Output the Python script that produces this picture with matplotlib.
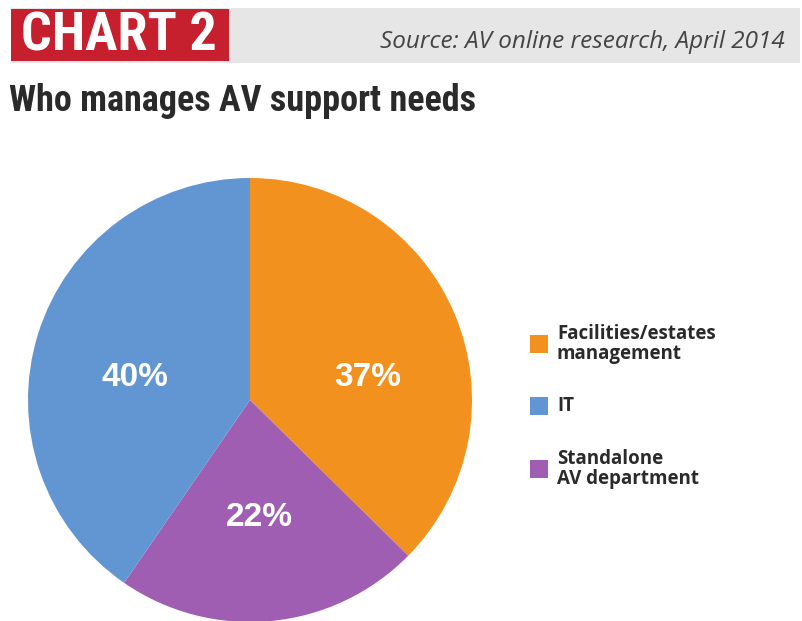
import matplotlib
matplotlib.use("Agg")
import matplotlib.pyplot as plt
from matplotlib.patches import Rectangle

# survey shares (per cent), pie order clockwise from 12 o'clock
slices = ["Facilities/estates\nmanagement", "Standalone\nAV department", "IT"]
shares = [37, 22, 40]
slice_colors = ["#F2911E", "#A05EB2", "#6296D2"]

# legend order
legend_order = ["Facilities/estates\nmanagement", "IT", "Standalone\nAV department"]

chart_tag = "CHART 2"
source = "Source: AV online research, April 2014"
title = "Who manages AV support needs"

W, H = 802, 621
cond = ["Roboto Condensed", "DejaVu Sans"]
wide = ["Open Sans", "DejaVu Sans"]


def fx(px):
    return px / W


def fy(py):
    return 1 - py / H


fig = plt.figure(figsize=(W / 100, H / 100), dpi=100)
fig.patch.set_facecolor("white")

# header strip
fig.patches.append(Rectangle((fx(11), fy(63)), fx(789), 55 / H, transform=fig.transFigure,
                             facecolor="#E6E6E6", edgecolor="none"))
fig.patches.append(Rectangle((fx(11), fy(61)), fx(218), 52 / H, transform=fig.transFigure,
                             facecolor="#C61F2E", edgecolor="none"))
fig.text(fx(119), fy(36), chart_tag, color="white", fontsize=39, fontweight="bold",
         family=cond, ha="center", va="center")
fig.text(fx(785), fy(42), source, color="#444444", fontsize=17.5, style="italic",
         family=wide, ha="right", va="center")
fig.text(fx(9), fy(101), title, color="#2a2a2a", fontsize=26, fontweight="bold",
         family=cond, ha="left", va="center")

# pie: centre (250, 400) px, radius 222 px
ax = fig.add_axes([fx(28), fy(622), fx(444), 444 / H])
wedges, _ = ax.pie(shares, colors=slice_colors, startangle=90, counterclock=False,
                   radius=1, wedgeprops=dict(linewidth=0))
ax.set_xlim(-1, 1)
ax.set_ylim(-1, 1)
ax.set_aspect("equal")
ax.axis("off")

label_xy = [(0.53, 0.10), (0.04, -0.53), (-0.52, 0.10)]
for v, (x, y) in zip(shares, label_xy):
    ax.text(x, y, f"{v}%", color="white", fontsize=24, fontweight="bold",
            family=["Liberation Sans", "DejaVu Sans"], ha="center", va="center")

# legend drawn by hand
key_y = [344, 406, 469]
for name, yc in zip(legend_order, key_y):
    col = slice_colors[slices.index(name)]
    fig.patches.append(Rectangle((fx(530), fy(yc + 9)), fx(18), 18 / H,
                                 transform=fig.transFigure, facecolor=col, edgecolor="none"))
    fig.text(fx(557), fy(yc), name, color="#2a2a2a", fontsize=13.5, fontweight="bold",
             family=wide, ha="left", va="center", linespacing=0.95)

fig.savefig("out.png", dpi=100, facecolor="white")
